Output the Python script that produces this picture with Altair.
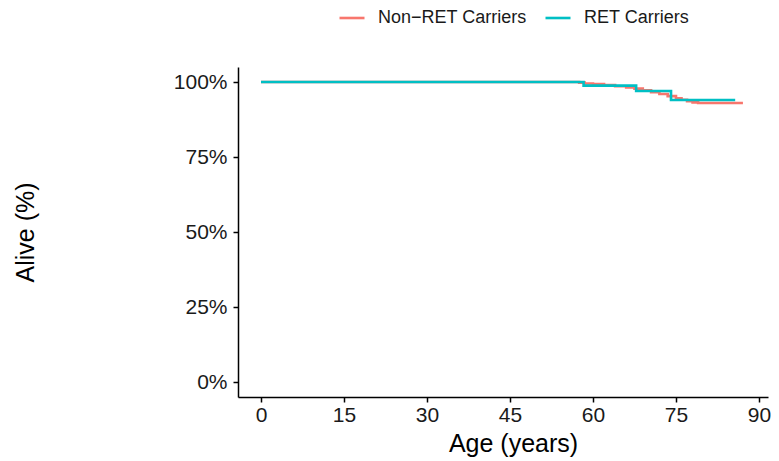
import altair as alt
import pandas as pd

nonret_age = [0, 57.5, 58.5, 60, 62, 64, 66, 67.5, 69, 70.5, 72, 73.5, 75, 76, 77, 78, 79, 87.1]
nonret_surv = [100, 99.8, 99.5, 99.3, 99.0, 98.6, 98.2, 97.8, 97.2, 96.6, 96.0, 95.3, 94.6, 94.1, 93.6, 93.2, 93.0, 93.0]
ret_age = [0, 58.3, 67.8, 74.1, 85.7]
ret_surv = [100, 98.8, 97.0, 94.0, 94.0]

groups = ["Non\u2212RET Carriers", "RET Carriers"]
colors = ["#F8766D", "#00BFC4"]
x_ticks = [0, 15, 30, 45, 60, 75, 90]
y_ticks = [0, 25, 50, 75, 100]

df = pd.concat([
    pd.DataFrame({"age": nonret_age, "surv": nonret_surv, "group": groups[0], "o": range(len(nonret_age))}),
    pd.DataFrame({"age": ret_age, "surv": ret_surv, "group": groups[1], "o": range(len(ret_age))}),
])

FONT = "Liberation Sans"

chart = alt.Chart(df).mark_line(interpolate="step-after", strokeWidth=2.6).encode(
    x=alt.X("age:Q", scale=alt.Scale(domain=[-4.157, 91.63], nice=False, zero=False),
            axis=alt.Axis(values=x_ticks, title="Age (years)", grid=False,
                          domainColor="black", domainWidth=1.5, tickColor="black", tickWidth=1.5,
                          tickSize=5, labelPadding=2, labelFontSize=21, labelColor="#1a1a1a",
                          labelFont=FONT, titleFont=FONT, titleFontSize=25, titleFontWeight="normal",
                          titleColor="black", titlePadding=6, titleX=275, titleAlign="center")),
    y=alt.Y("surv:Q", scale=alt.Scale(domain=[-5, 105], nice=False, zero=False),
            axis=alt.Axis(values=y_ticks, title="Alive (%)", grid=False, labelExpr="datum.value + '%'",
                          domainColor="black", domainWidth=1.5, tickColor="black", tickWidth=1.5,
                          tickSize=5, labelPadding=6, labelFontSize=21, labelColor="#1a1a1a",
                          labelFont=FONT, titleFont=FONT, titleFontSize=25, titleFontWeight="normal",
                          titleColor="black", titleX=-213, titleY=165, titleAlign="center",
                          titleBaseline="middle", titleAngle=-90)),
    color=alt.Color("group:N", scale=alt.Scale(domain=groups, range=colors),
                    legend=alt.Legend(title=None, orient="none", direction="horizontal",
                                      legendX=100, legendY=-63, symbolType="stroke",
                                      symbolSize=625, symbolStrokeWidth=2.6, labelFont=FONT,
                                      labelFontSize=18, labelOffset=12, columnPadding=13,
                                      labelColor="#1a1a1a")),
    order="o:Q",
).properties(
    width=530, height=330,
    autosize=alt.AutoSizeParams(type="none"),
    padding={"left": 230, "top": 59, "right": 3, "bottom": 64},
).configure_view(stroke=None)

chart.save("out.html", embed_options={"renderer": "svg", "actions": False})
